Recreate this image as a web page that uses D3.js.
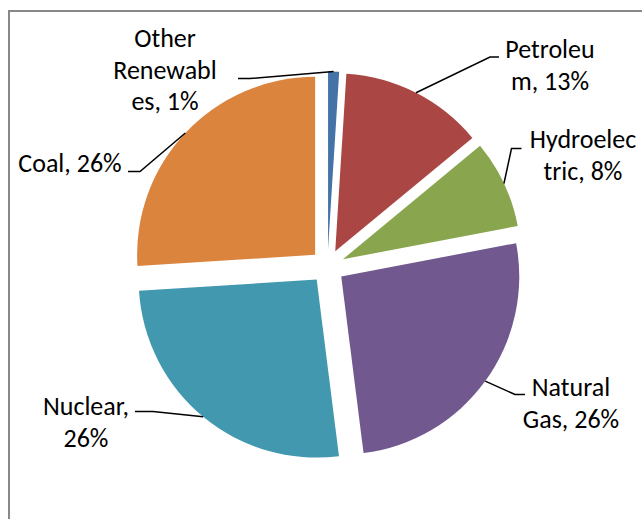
<!DOCTYPE html>
<html>
<head>
<meta charset="utf-8">
<script src="https://cdn.jsdelivr.net/npm/d3@7"></script>
<style>
  html, body { margin: 0; padding: 0; background: #fff; }
  text { font-family: Carlito, Calibri, Lato, sans-serif; font-size: 26px; fill: #000; }
</style>
</head>
<body>
<div id="pie"></div>
<script>
// data (percent of total)
const categories = ["Other Renewables", "Petroleum", "Hydroelectric", "Natural Gas", "Nuclear", "Coal"];
const shares = [1, 13, 8, 26, 26, 26];
// label text as it wraps in the original
const labelLines = [
    ["Other", "Renewabl", "es, 1%"],
    ["Petroleu", "m, 13%"],
    ["Hydroelec", "tric, 8%"],
    ["Natural", "Gas, 26%"],
    ["Nuclear,", "26%"],
    ["Coal, 26%"]
];
const colors = ["#4572A7", "#AA4643", "#89A54E", "#71588F", "#4198AF", "#DB843D"];

// layout
const width = 642, height = 519;
const cx = 327.5, cy = 266.5;
const radius = 178, explode = 17;
const lineHeight = 31.7;

// label anchor (center x, first baseline) and leader elbow / end points
const labelPos = [
    {x: 165, y: 47,  elbow: [250, 78.5], end: [238, 78.5]},
    {x: 550, y: 58,  elbow: [490, 57],   end: [499, 57]},
    {x: 583, y: 148, elbow: [511.5, 148.5], end: [521.5, 148.5]},
    {x: 571, y: 396, elbow: [515, 394.5], end: [525, 394.5]},
    {x: 86,  y: 415, elbow: [153, 411.5], end: [135, 411.5]},
    {x: 70,  y: 172, elbow: [140, 171.5], end: [128, 171.5]}
];

let svg = d3.select("#pie")
    .append("svg")
    .attr("width", width)
    .attr("height", height);

// chart area border (runs off the right and bottom)
svg.append("rect")
    .attr("x", 9)
    .attr("y", 11)
    .attr("width", 700)
    .attr("height", 600)
    .attr("fill", "none")
    .attr("stroke", "#888")
    .attr("stroke-width", 2);

let data = categories.map((c, i) => ({name: c, value: shares[i], lines: labelLines[i], pos: labelPos[i]}));

let pie = d3.pie()
    .sort(null)
    .value(d => d.value);

let arcs = pie(data);

let arc = d3.arc()
    .innerRadius(0)
    .outerRadius(radius);

// offset of each exploded slice along its bisector
function shift(d, r) {
    let a = (d.startAngle + d.endAngle) / 2;
    return [Math.sin(a) * r, -Math.cos(a) * r];
}

let g = svg.append("g")
    .attr("transform", "translate(" + cx + "," + cy + ")");

g.selectAll("path")
    .data(arcs)
    .enter()
    .append("path")
    .attr("d", arc)
    .attr("fill", (d, i) => colors[i])
    .attr("transform", d => {
        let s = shift(d, explode);
        return "translate(" + s[0] + "," + s[1] + ")";
    });

// leader lines: from slice edge to label
svg.selectAll("polyline")
    .data(arcs)
    .enter()
    .append("polyline")
    .attr("fill", "none")
    .attr("stroke", "#000")
    .attr("stroke-width", 1.5)
    .attr("points", d => {
        let s = shift(d, explode + radius);
        let p = d.data.pos;
        return [[cx + s[0], cy + s[1]], p.elbow, p.end].map(q => q.join(",")).join(" ");
    });

// labels
let labels = svg.selectAll("text.label")
    .data(arcs)
    .enter()
    .append("text")
    .attr("class", "label")
    .attr("text-anchor", "middle");

labels.selectAll("tspan")
    .data(d => d.data.lines.map(t => ({t: t, pos: d.data.pos})))
    .enter()
    .append("tspan")
    .attr("x", d => d.pos.x)
    .attr("y", (d, i) => d.pos.y + i * lineHeight)
    .text(d => d.t);
</script>
</body>
</html>
